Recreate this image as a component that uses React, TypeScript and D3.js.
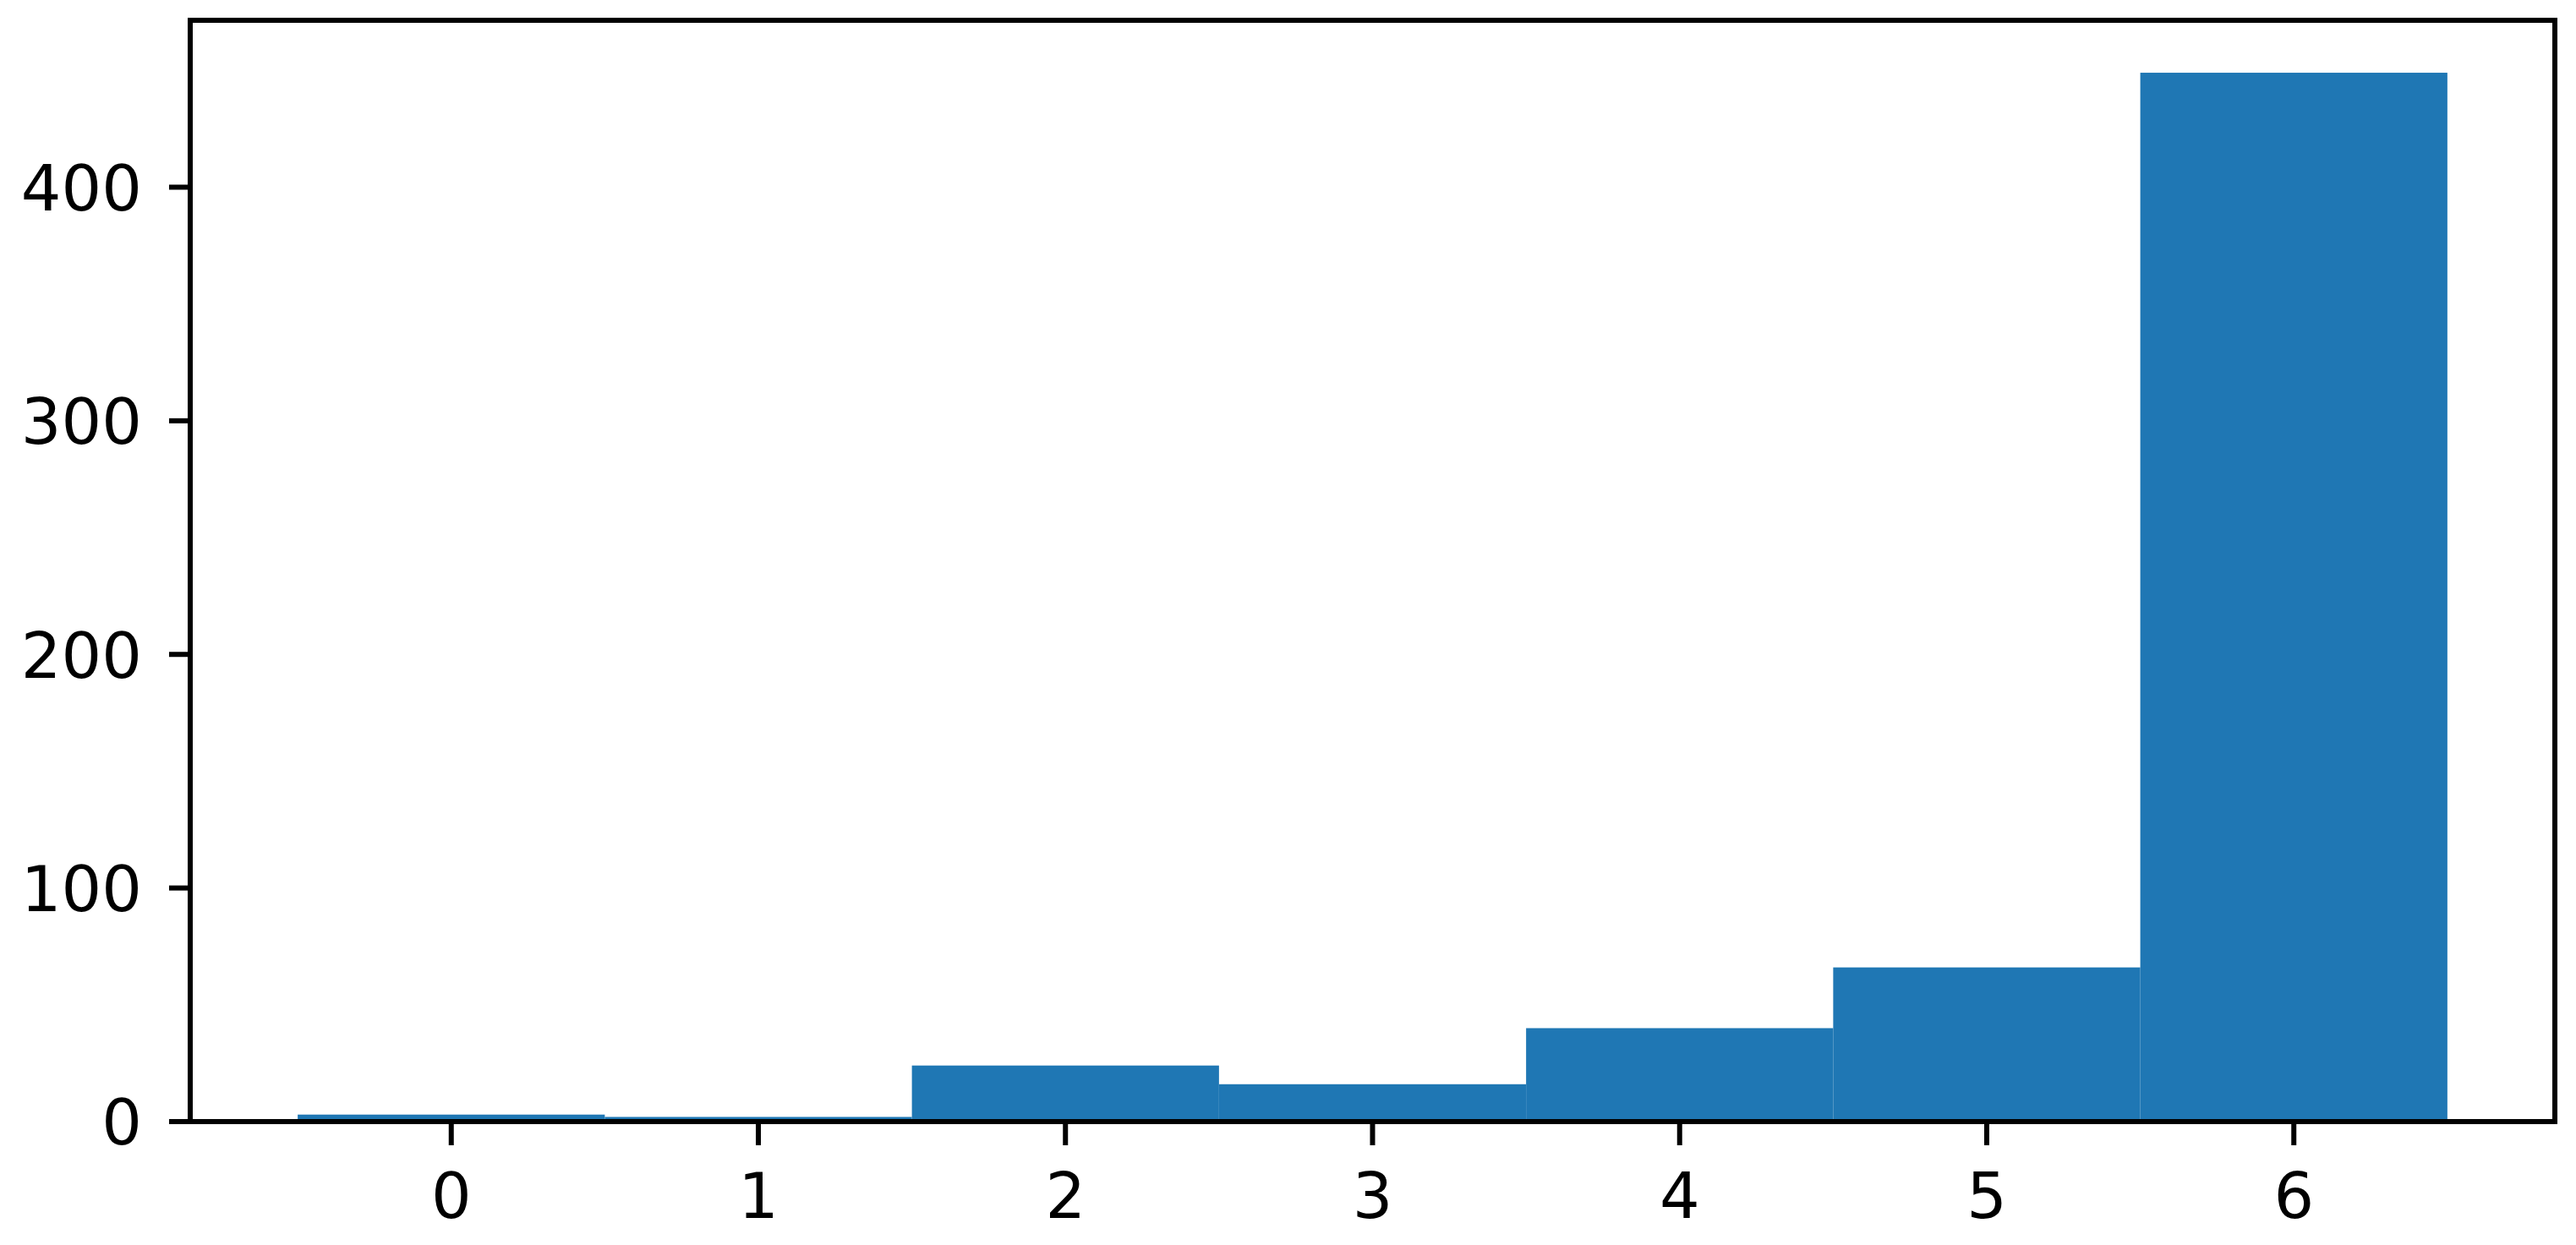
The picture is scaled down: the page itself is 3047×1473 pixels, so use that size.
import React from "react";
import * as d3 from "d3";

const categories = [0, 1, 2, 3, 4, 5, 6];
const counts = [3, 2, 24, 16, 40, 66, 449];
const yTicks = [0, 100, 200, 300, 400];
const xTicks = [0, 1, 2, 3, 4, 5, 6];

const W = 3047;
const H = 1473;
const left = 225;
const right = 3022;
const top = 24;
const bottom = 1327;
const FONT = "'DejaVu Sans', sans-serif";
const FS = 75;

export default function App() {
  const x = d3.scaleLinear().domain([-0.85, 6.85]).range([left, right]);
  const y = d3.scaleLinear().domain([0, 449 * 1.05]).range([bottom, top]);
  const tickLen = 25;
  const lw = 6;
  return (
    <div style={{ position: "absolute", left: 0, top: 0 }}>
      <svg width={W} height={H} style={{ display: "block", background: "#fff" }}>
        {categories.map((c, i) => (
          <rect
            key={c}
            x={x(c - 0.5)}
            width={x(c + 0.5) - x(c - 0.5)}
            y={y(counts[i])}
            height={y(0) - y(counts[i])}
            fill="#1f77b4"
          />
        ))}
        <rect
          x={left}
          y={top}
          width={right - left}
          height={bottom - top}
          fill="none"
          stroke="#000"
          strokeWidth={lw}
          strokeLinecap="square"
        />
        {yTicks.map((t) => (
          <g key={"y" + t}>
            <line x1={left - tickLen} x2={left} y1={y(t)} y2={y(t)} stroke="#000" strokeWidth={lw} />
            <text
              x={left - tickLen - 32}
              y={y(t)}
              dy="0.3645em"
              textAnchor="end"
              fontFamily={FONT}
              fontSize={FS}
              fill="#000"
            >
              {t}
            </text>
          </g>
        ))}
        {xTicks.map((t) => (
          <g key={"x" + t}>
            <line x1={x(t)} x2={x(t)} y1={bottom} y2={bottom + tickLen + 3} stroke="#000" strokeWidth={lw} />
            <text
              x={x(t)}
              y={1441}
              textAnchor="middle"
              fontFamily={FONT}
              fontSize={FS}
              fill="#000"
            >
              {t}
            </text>
          </g>
        ))}
      </svg>
    </div>
  );
}
